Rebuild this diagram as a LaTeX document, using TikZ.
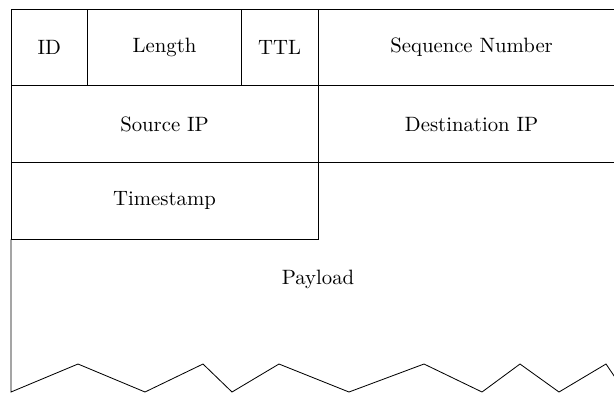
\documentclass[tikz,border=0pt]{standalone}
\usetikzlibrary{positioning}

\begin{document}
\begin{tikzpicture}[x=0.482pt,y=-0.482pt,
  field/.style={draw,inner sep=0pt,outer sep=0pt,minimum height=37pt},
  one/.style={field,minimum width=37pt}, two/.style={field,minimum width=74pt},
  four/.style={field,minimum width=148pt}]
\useasboundingbox (0,0) rectangle (614,392);
\clip (0,0) rectangle (614,392);
% header row
\node[one,anchor=north west] (id) at (11,9) {ID};
\node[two,right=0pt of id] (len) {Length};
\node[one,right=0pt of len] (ttl) {TTL};
\node[four,right=0pt of ttl] (seq) {Sequence Number};
% addresses
\node[four,below=0pt of id.south west,anchor=north west] (src) {Source IP};
\node[four,right=0pt of src] (dst) {Destination IP};
\node[four,below=0pt of src] (stamp) {Timestamp};
% payload, torn at the bottom
\node (payload) at (318,279) {Payload};
\coordinate (tl) at (stamp.south west);
\coordinate (tr) at (dst.south east);
\draw (tl) -- (11,392) -- (78,364) -- (145,392) -- (203,364) -- (232,392)
  -- (279,364) -- (349,392) -- (424,364) -- (482,392) -- (520,364)
  -- (559,392) -- (606,364) -- (625,392) -- (tr);
\end{tikzpicture}
\end{document}
